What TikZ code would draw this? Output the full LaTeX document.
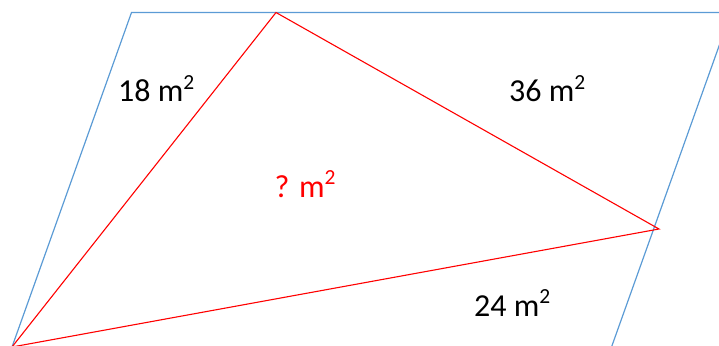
\documentclass[tikz,border=0pt]{standalone}
\usepackage{fontspec}
\setmainfont{Carlito}
\newcommand{\suptwo}{\raisebox{0.39em}{\fontsize{21.5}{22}\selectfont 2}}
\tikzset{
  para/.style={draw={rgb,255:red,91;green,155;blue,213}, line width=1.2pt, line join=miter},
  tri/.style={draw={rgb,255:red,255;green,0;blue,0}, line width=1.1pt, line join=miter},
  area/.style={anchor=base west, inner sep=0pt, font=\fontsize{32}{36}\selectfont},
}
\begin{document}
\begin{tikzpicture}[x=1pt,y=-1pt]
\useasboundingbox (0,0) rectangle (719,345);
\clip (0,0) rectangle (719,345);
% parallelogram corners
\coordinate (P1) at (131.5,12.5);
\coordinate (P2) at (731,12.5);
\coordinate (P3) at (611.5,347);
\coordinate (P4) at (12,347);
\draw[para] (P1) -- (P2) -- (P3) -- (P4) -- cycle;
% triangle
\coordinate (A) at (12,347);
\coordinate (B) at (276,12.5);
\coordinate (C) at (659,229);
\draw[tri] (A) -- (B) -- (C) -- cycle;
% labels
\node[area] (l18) at (118,101.7) {18 m\suptwo};
\node[area] (l36) at (509,101.7) {36 m\suptwo};
\node[area, text={rgb,255:red,255;green,0;blue,0}] (lq) at (274.5,197.3) {? m\suptwo};
\node[area] (l24) at (474,316) {24 m\suptwo};
\end{tikzpicture}
\end{document}
